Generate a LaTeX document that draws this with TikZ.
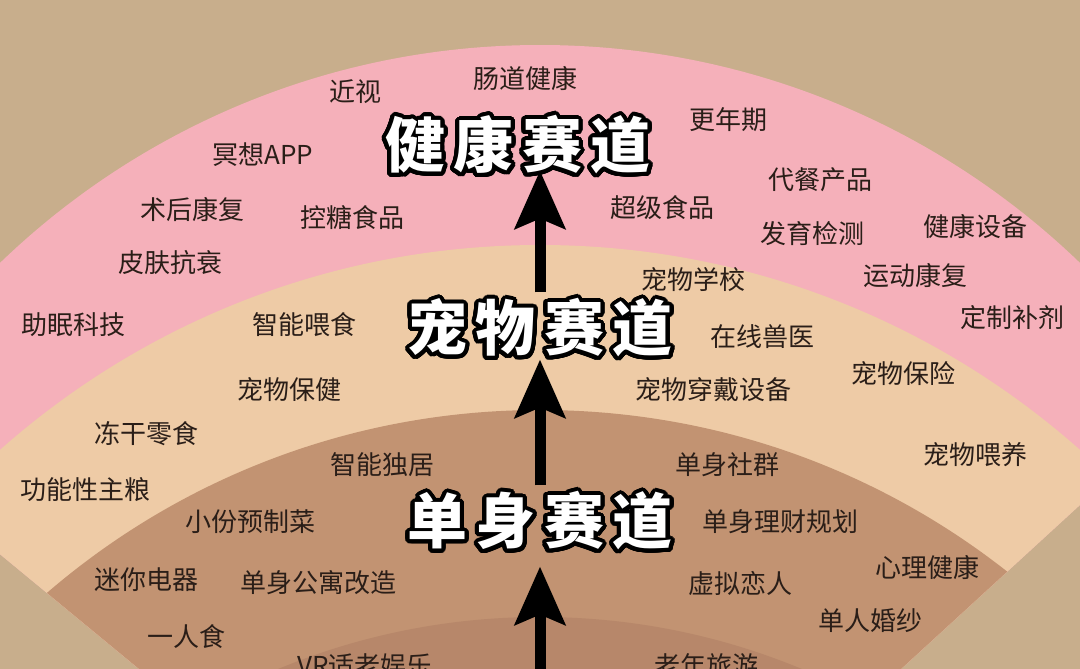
\documentclass[tikz,border=0pt]{standalone}
\usepackage{fontspec}
\usepackage[copies]{contour}
\usetikzlibrary{arrows.meta,calc}
\newfontfamily\cjk{Noto Sans CJK SC}
\newfontfamily\cjkt{Noto Sans CJK SC}[LetterSpace=14]
\definecolor{bgtan}{HTML}{C8AE8C}
\definecolor{pinkb}{HTML}{F5B0BA}
\definecolor{beigeb}{HTML}{EECBA6}
\definecolor{brownb}{HTML}{C29372}
\definecolor{darkb}{HTML}{B7876A}
\definecolor{ink}{HTML}{2A1E18}
\contourlength{4pt}\contournumber{40}
\tikzset{
 lbl/.style={font=\cjk\fontsize{26}{26}\selectfont, text=ink, inner sep=0pt},
 ttl/.style={font=\cjkt\bfseries\fontsize{60}{60}\selectfont, text=white, inner sep=0pt},
 bigarrow/.style={line width=11pt, -{Stealth[length=58pt,width=50pt,inset=10pt]}, black}
}
\begin{document}
\begin{tikzpicture}[x=1pt,y=-1pt]
\useasboundingbox (0,0) rectangle (1080,669);
\fill[bgtan] (0,0) rectangle (1080,669);
\begin{scope}
\clip (540,1000) -- ($(540,1000)!3!(47,593)$) -- (-300,-200) -- (1400,-200) -- ($(540,1000)!3!(1033,548)$) -- cycle;
\fill[pinkb] (540,823) circle (778);
\fill[beigeb] (540,1059) circle (814);
\fill[brownb] (540,1166) circle (756);
\fill[darkb] (540,1300) circle (683);
\end{scope}
% labels
\node[lbl] (l1) at (355,92) {近视};
\node[lbl] (l2) at (525,78) {肠道健康};
\node[lbl] (l3) at (728,120) {更年期};
\node[lbl] (l4) at (263,155) {冥想APP};
\node[lbl] (l5) at (820,180) {代餐产品};
\node[lbl] (l6) at (192,210) {术后康复};
\node[lbl] (l7) at (352,218) {控糖食品};
\node[lbl] (l8) at (662,208) {超级食品};
\node[lbl] (l9) at (812,234) {发育检测};
\node[lbl] (l10) at (975,227) {健康设备};
\node[lbl] (l11) at (170,263) {皮肤抗衰};
\node[lbl] (l12) at (693,280) {宠物学校};
\node[lbl] (l13) at (915,276) {运动康复};
\node[lbl] (l14) at (73,325) {助眠科技};
\node[lbl] (l15) at (304,325) {智能喂食};
\node[lbl] (l16) at (762,337) {在线兽医};
\node[lbl] (l17) at (1012,318) {定制补剂};
\node[lbl] (l18) at (289,390) {宠物保健};
\node[lbl] (l19) at (713,390) {宠物穿戴设备};
\node[lbl] (l20) at (903,374) {宠物保险};
\node[lbl] (l21) at (146,434) {冻干零食};
\node[lbl] (l22) at (975,455) {宠物喂养};
\node[lbl] (l23) at (382,465) {智能独居};
\node[lbl] (l24) at (727,465) {单身社群};
\node[lbl] (l25) at (85,490) {功能性主粮};
\node[lbl] (l26) at (250,522) {小份预制菜};
\node[lbl] (l27) at (780,522) {单身理财规划};
\node[lbl] (l28) at (146,580) {迷你电器};
\node[lbl] (l29) at (318,583) {单身公寓改造};
\node[lbl] (l30) at (740,583) {虚拟恋人};
\node[lbl] (l31) at (927,567) {心理健康};
\node[lbl] (l32) at (186,636) {一人食};
\node[lbl] (l33) at (870,621) {单人婚纱};
\node[lbl] (l34) at (365,666) {VR适老娱乐};
\node[lbl] (l35) at (706,666) {老年旅游};
% titles
\node[ttl] (t1) at (518,147) {\contour{black}{健康赛道}};
\node[ttl] (t2) at (540,330) {\contour{black}{宠物赛道}};
\node[ttl] (t3) at (540,523) {\contour{black}{单身赛道}};
\coordinate (b0) at (540,675);
\draw[bigarrow, shorten >=12pt] (b0) -- (t3.south);
\draw[bigarrow, shorten <=6pt, shorten >=-2pt] (t3.north) -- (t2.south);
\draw[bigarrow, shorten <=6pt, shorten >=-8pt] (t2.north) -- (t2.north |- t1.south);
\end{tikzpicture}
\end{document}
